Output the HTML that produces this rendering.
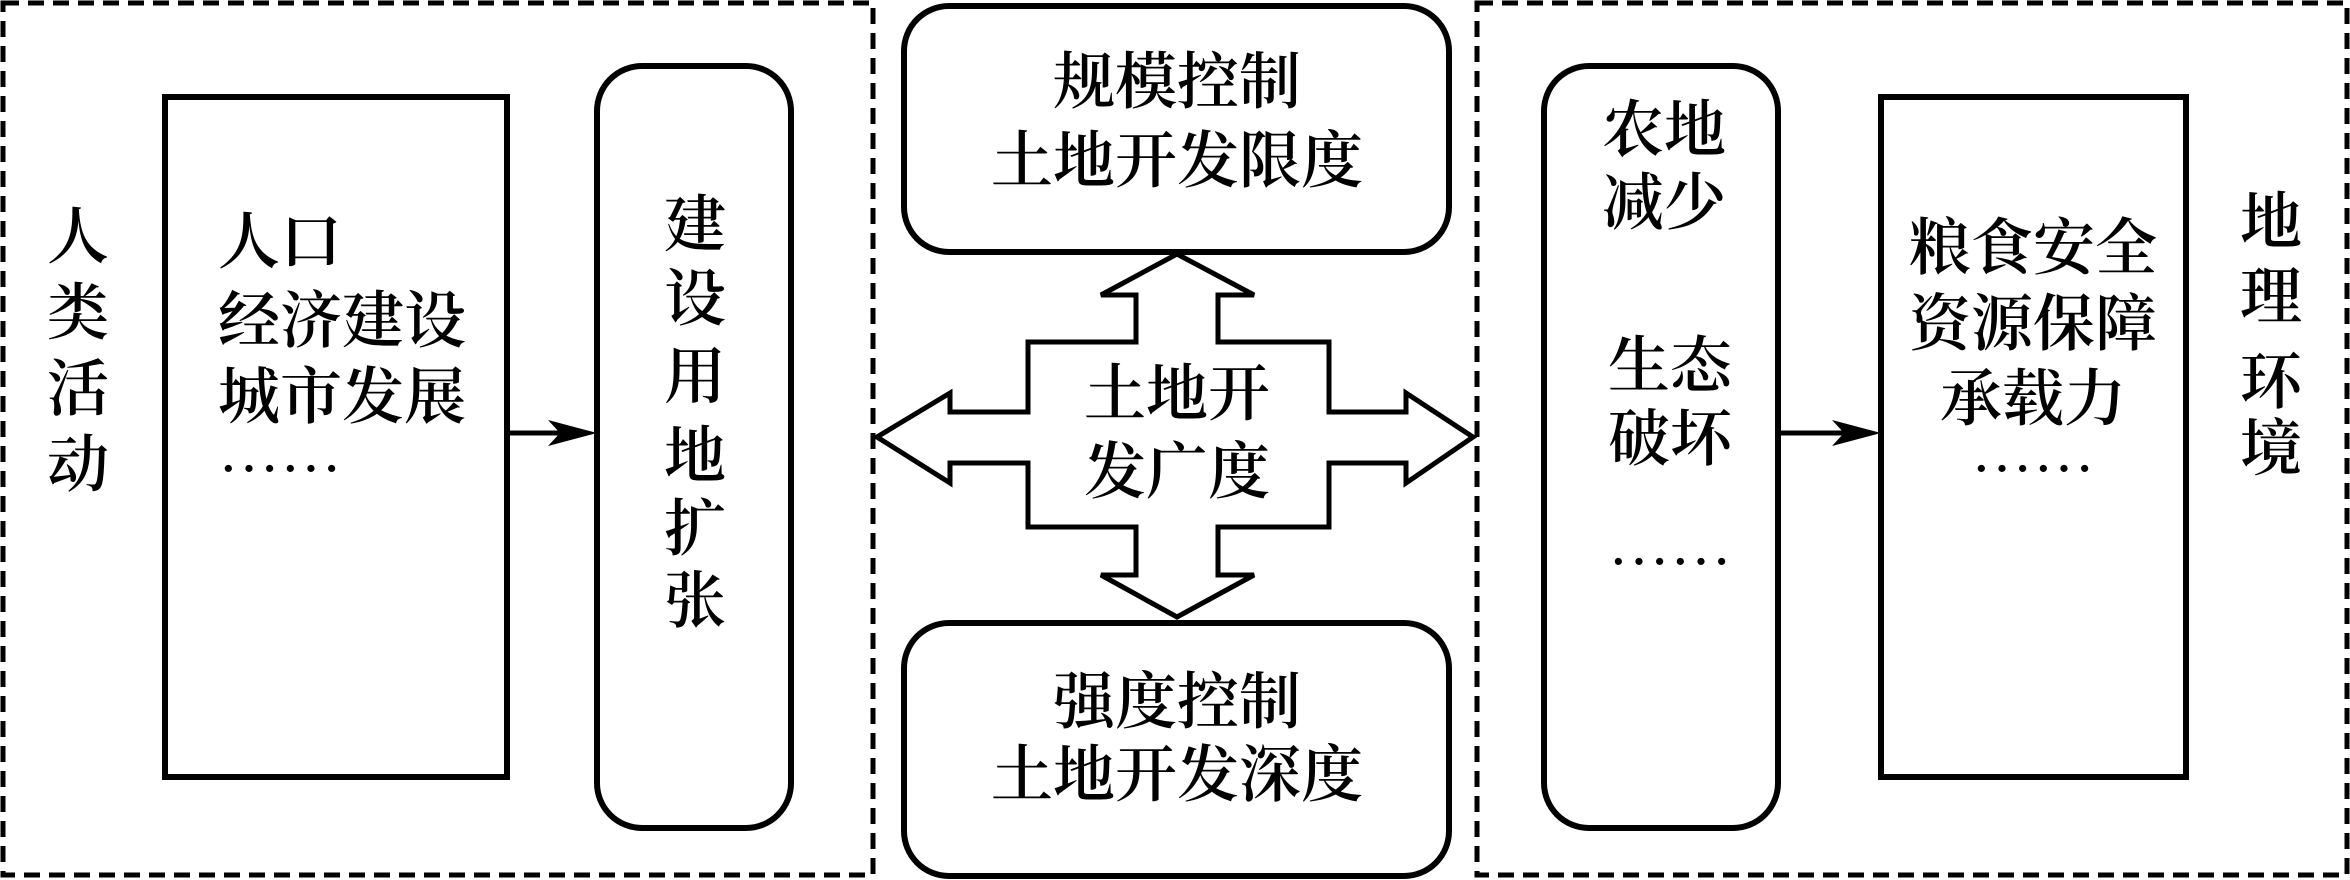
<!DOCTYPE html>
<html><head><meta charset="utf-8"><style>
html,body{margin:0;padding:0;background:#fff;}
svg{display:block;}
text{font-family:"Noto Serif CJK SC","Liberation Serif",serif;font-size:62px;font-weight:600;fill:#000;}
</style></head><body>
<svg width="2350" height="880" viewBox="0 0 2350 880" xmlns="http://www.w3.org/2000/svg">
<g fill="none" stroke="#000">
<rect x="3" y="3" width="870" height="872" stroke-width="5" stroke-dasharray="16,9"/>
<rect x="1477" y="3" width="870" height="872" stroke-width="5" stroke-dasharray="16,9"/>
<rect x="165" y="97" width="342" height="680" stroke-width="6"/>
<rect x="597" y="66" width="194" height="762" rx="45" stroke-width="6"/>
<rect x="1544" y="66" width="234" height="762" rx="45" stroke-width="6"/>
<rect x="1881" y="97" width="305" height="680" stroke-width="6"/>
<rect x="904" y="6" width="545" height="246" rx="45" stroke-width="6"/>
<rect x="904" y="623" width="545" height="253" rx="45" stroke-width="6"/>
<path d="M1177,254 L1254,295 L1218,295 L1218,342 L1329,342 L1329,412 L1406,412 L1406,393 L1473,437 L1406,483 L1406,463 L1329,463 L1329,527 L1218,527 L1218,575 L1254,575 L1177,617 L1101,575 L1136,575 L1136,527 L1028,527 L1028,463 L950,463 L950,483 L877,437 L950,393 L950,412 L1028,412 L1028,342 L1136,342 L1136,295 L1101,295 Z" stroke-width="5" stroke-linejoin="miter"/>
<line x1="507" y1="433" x2="580" y2="433" stroke-width="5"/>
<line x1="1778" y1="433" x2="1864" y2="433" stroke-width="5"/>
</g>
<path d="M597,433 L548,420 L560,433 L548,446 Z" fill="#000"/>
<path d="M1881,433 L1832,420 L1844,433 L1832,446 Z" fill="#000"/>
<g text-anchor="middle">
<text x="78" y="258">人</text><text x="78" y="334">类</text><text x="78" y="410">活</text><text x="78" y="486">动</text>
<text x="695" y="246">建</text><text x="695" y="320">设</text><text x="695" y="398">用</text><text x="695" y="477">地</text><text x="695" y="550">扩</text><text x="695" y="622">张</text>
<text x="2271" y="243">地</text><text x="2271" y="318">理</text><text x="2271" y="403">环</text><text x="2271" y="470">境</text>
<text x="1177" y="103">规模控制</text><text x="1177" y="182">土地开发限度</text>
<text x="1177" y="723">强度控制</text><text x="1177" y="796">土地开发深度</text>
<text x="1177" y="415">土地开</text><text x="1177" y="493">发广度</text>
<text x="2033" y="269">粮食安全</text><text x="2033" y="345">资源保障</text><text x="2033" y="420">承载力</text>
<text x="2033" y="492" font-size="40">……</text>
</g>
<text x="218" y="263">人口</text>
<text x="218" y="342">经济建设</text>
<text x="218" y="418">城市发展</text>
<text x="218" y="492" font-size="40">……</text>
<text x="1602" y="151">农地</text><text x="1602" y="224">减少</text>
<text x="1608" y="387">生态</text><text x="1608" y="460">破坏</text>
<text x="1608" y="585" font-size="40">……</text>
</svg>
</body></html>
